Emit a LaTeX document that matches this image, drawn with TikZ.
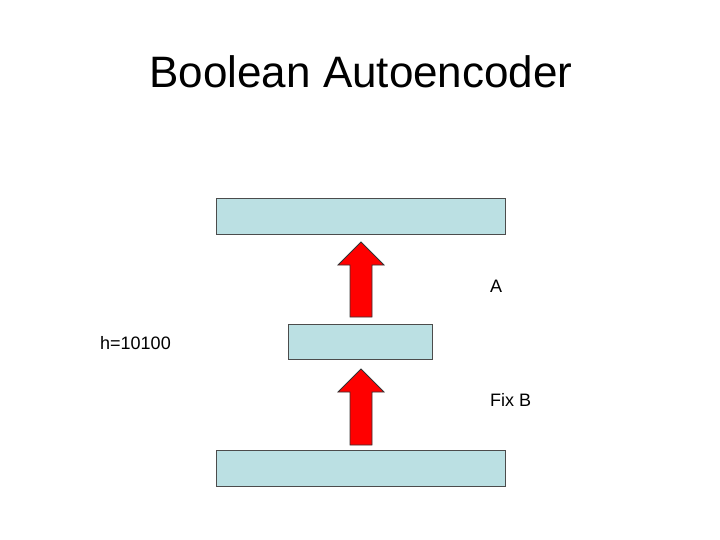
\documentclass[tikz,border=0pt]{standalone}
\usepackage{fontspec}
\setmainfont{Liberation Sans}
\begin{document}
\begin{tikzpicture}[x=1pt,y=-1pt,
  layer/.style={draw=black!70,fill={rgb,255:red,187;green,224;blue,227},line width=0.8pt},
  lbl/.style={anchor=west,font=\fontsize{18}{20}\selectfont,inner sep=0pt},
  bigarrow/.style={draw=black!80,fill=red,line width=0.8pt}]
\useasboundingbox (0,0) rectangle (720,540);
\node (title) at (361,72) {\fontsize{44}{50}\selectfont Boolean Autoencoder};
\path[layer] (216,198) rectangle (505,234); \coordinate (top) at (360,216);
\path[layer] (288,324) rectangle (432,359); \coordinate (mid) at (360,341);
\path[layer] (216,450) rectangle (505,486); \coordinate (bot) at (360,468);
\node[lbl] (a) at (490,286) {A};
\node[lbl] (h) at (100,343) {h=10100};
\node[lbl] (fb) at (490,400) {Fix B};
\path[bigarrow] (350,317) -- (350,265) -- (338,265) -- (361,242) -- (384,265) -- (372,265) -- (372,317) -- cycle;
\path[bigarrow] (350,445) -- (350,392) -- (338,392) -- (361,369) -- (384,392) -- (372,392) -- (372,445) -- cycle;
\end{tikzpicture}
\end{document}
